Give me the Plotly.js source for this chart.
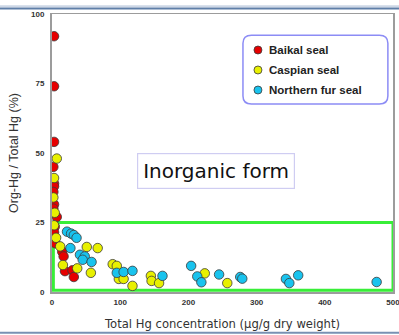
<!DOCTYPE html>
<html>
<head>
<meta charset="utf-8">
<script src="https://cdn.plot.ly/plotly-3.0.1.min.js"></script>
<style>
  html, body { margin: 0; padding: 0; background: #ffffff; overflow: hidden; }
  #chart { width: 399px; height: 335px; }
</style>
</head>
<body>
<div id="chart"></div>
<script>
// Total Hg concentration (µg/g dry weight) and organic share of Hg (%)
const baikalHg  = [3, 3, 3, 2, 3, 3, 2, 3, 2, 7, 4, 3, 5, 15, 17, 19, 30, 32];
const baikalOrg = [92, 74, 54, 45, 39, 38, 36, 31.5, 30, 27, 23.5, 21.5, 17.5, 14.5, 12.8, 7.5, 7.8, 5.4];

const caspianHg  = [7, 3, 2, 4, 3, 6, 12, 16, 37, 51, 67, 57, 89, 95, 98, 105, 118, 145, 146, 157, 224, 257];
const caspianOrg = [48, 41, 34, 28.5, 24, 19.5, 16.4, 9.7, 8.5, 16.2, 15.8, 6.9, 10, 9.4, 4.7, 4.7, 2.2, 5.8, 4, 3.2, 6.7, 3.2];

const furHg  = [22, 28, 32, 36, 27, 41, 48, 45, 58, 95, 105, 118, 162, 204, 213, 219, 245, 276, 279, 343, 348, 361, 476];
const furOrg = [21.7, 21, 20.5, 19.5, 15.8, 13.4, 12.8, 11.6, 10.8, 6.9, 7.2, 7.6, 5.8, 9.4, 5.6, 3.5, 6.3, 5.4, 4.8, 4.7, 3.2, 6, 3.6];

const seriesNames = ['Baikal seal', 'Caspian seal', 'Northern fur seal'];
const seriesColors = ['#e60000', '#e8f000', '#19c3ee'];

const ARIAL = 'Arial, Liberation Sans, sans-serif';

function seal(x, y, i) {
  return {
    type: 'scatter', mode: 'markers', x: x, y: y, name: seriesNames[i],
    marker: { size: 9.5, color: seriesColors[i], line: { color: '#3a3a3a', width: 0.8 } },
    hoverinfo: 'x+y+name'
  };
}

const data = [
  seal(baikalHg, baikalOrg, 0),
  seal(caspianHg, caspianOrg, 1),
  seal(furHg, furOrg, 2)
];

// Key box: one row per species, swatch circle + bold name
const keyX = 0.604, keyTextX = 0.63;
const keyRows = [0.8705, 0.7986, 0.7266];
const rx = 4 / 341, ry = 4 / 278;

const keySwatches = seriesNames.map((n, i) => ({
  type: 'circle', xref: 'paper', yref: 'paper', layer: 'above',
  x0: keyX - rx, x1: keyX + rx, y0: keyRows[i] - ry, y1: keyRows[i] + ry,
  fillcolor: seriesColors[i], line: { color: '#3a3a3a', width: 0.8 }
}));
const keyLabels = seriesNames.map((n, i) => ({
  text: n, xref: 'paper', yref: 'paper', x: keyTextX, y: keyRows[i],
  xanchor: 'left', yanchor: 'middle', showarrow: false,
  font: { family: ARIAL, size: 11.5, color: '#222', weight: 'bold' }
}));

const tickFont = { family: ARIAL, size: 8, color: '#333', weight: 'bold' };

const layout = {
  width: 399, height: 335,
  margin: { l: 52, r: 6, t: 14, b: 43, pad: 0 },
  paper_bgcolor: '#ffffff', plot_bgcolor: '#ffffff',
  showlegend: false,
  xaxis: {
    range: [0, 500], tickvals: [0, 100, 200, 300, 400, 500],
    showgrid: false, zeroline: false, ticks: '', ticklen: 0,
    showline: true, mirror: true, linecolor: '#9c9c9c', linewidth: 1.5,
    tickfont: tickFont, ticklabelstandoff: 2, ticklabeloverflow: 'allow',
    title: { text: 'Total Hg concentration (μg/g dry weight)', standoff: 14,
             font: { family: 'DejaVu Sans, sans-serif', size: 11.6, color: '#333' } }
  },
  yaxis: {
    range: [0, 100], tickvals: [0, 25, 50, 75, 100],
    showgrid: false, zeroline: false, ticks: '', ticklen: 0,
    showline: true, mirror: true, linecolor: '#9c9c9c', linewidth: 2,
    tickfont: tickFont, ticklabelstandoff: 4,
    title: { text: 'Org-Hg / Total Hg (%)', standoff: 10,
             font: { family: ARIAL, size: 12.5, color: '#333' } }
  },
  shapes: [
    // low organic-share region
    { type: 'rect', xref: 'x', yref: 'y', x0: 2, x1: 500, y0: 0.6, y1: 25,
      line: { color: '#38ee38', width: 3 }, layer: 'below' },
    // rounded frame round the key
    { type: 'path', xref: 'paper', yref: 'paper', layer: 'above',
      path: 'M 0.585 0.924 L 0.96 0.924 Q 0.985 0.924 0.985 0.895 L 0.985 0.705 Q 0.985 0.676 0.96 0.676 L 0.585 0.676 Q 0.56 0.676 0.56 0.705 L 0.56 0.895 Q 0.56 0.924 0.585 0.924 Z',
      line: { color: '#8c8cf5', width: 1.5 } },
    // page rules above and below the chart
    { type: 'line', xref: 'paper', yref: 'paper', x0: -0.2, x1: 1.05, y0: 1.028, y1: 1.028,
      line: { color: '#cdd7e6', width: 2 } },
    { type: 'line', xref: 'paper', yref: 'paper', x0: -0.2, x1: 1.05, y0: 1.02, y1: 1.02,
      line: { color: '#5f7fa8', width: 2 } },
    { type: 'line', xref: 'paper', yref: 'paper', x0: -0.2, x1: 1.05, y0: -0.147, y1: -0.147,
      line: { color: '#7891b3', width: 2 } }
  ].concat(keySwatches),
  annotations: [
    { text: 'Inorganic form', xref: 'x', yref: 'y', x: 240, y: 43.5,
      showarrow: false, xanchor: 'center', yanchor: 'middle',
      font: { family: 'DejaVu Sans, sans-serif', size: 20, color: '#111' },
      bgcolor: '#ffffff', bordercolor: '#cfcdf2', borderwidth: 1.2, borderpad: 5 }
  ].concat(keyLabels)
};

Plotly.newPlot('chart', data, layout, { displayModeBar: false, staticPlot: true });
</script>
</body>
</html>
